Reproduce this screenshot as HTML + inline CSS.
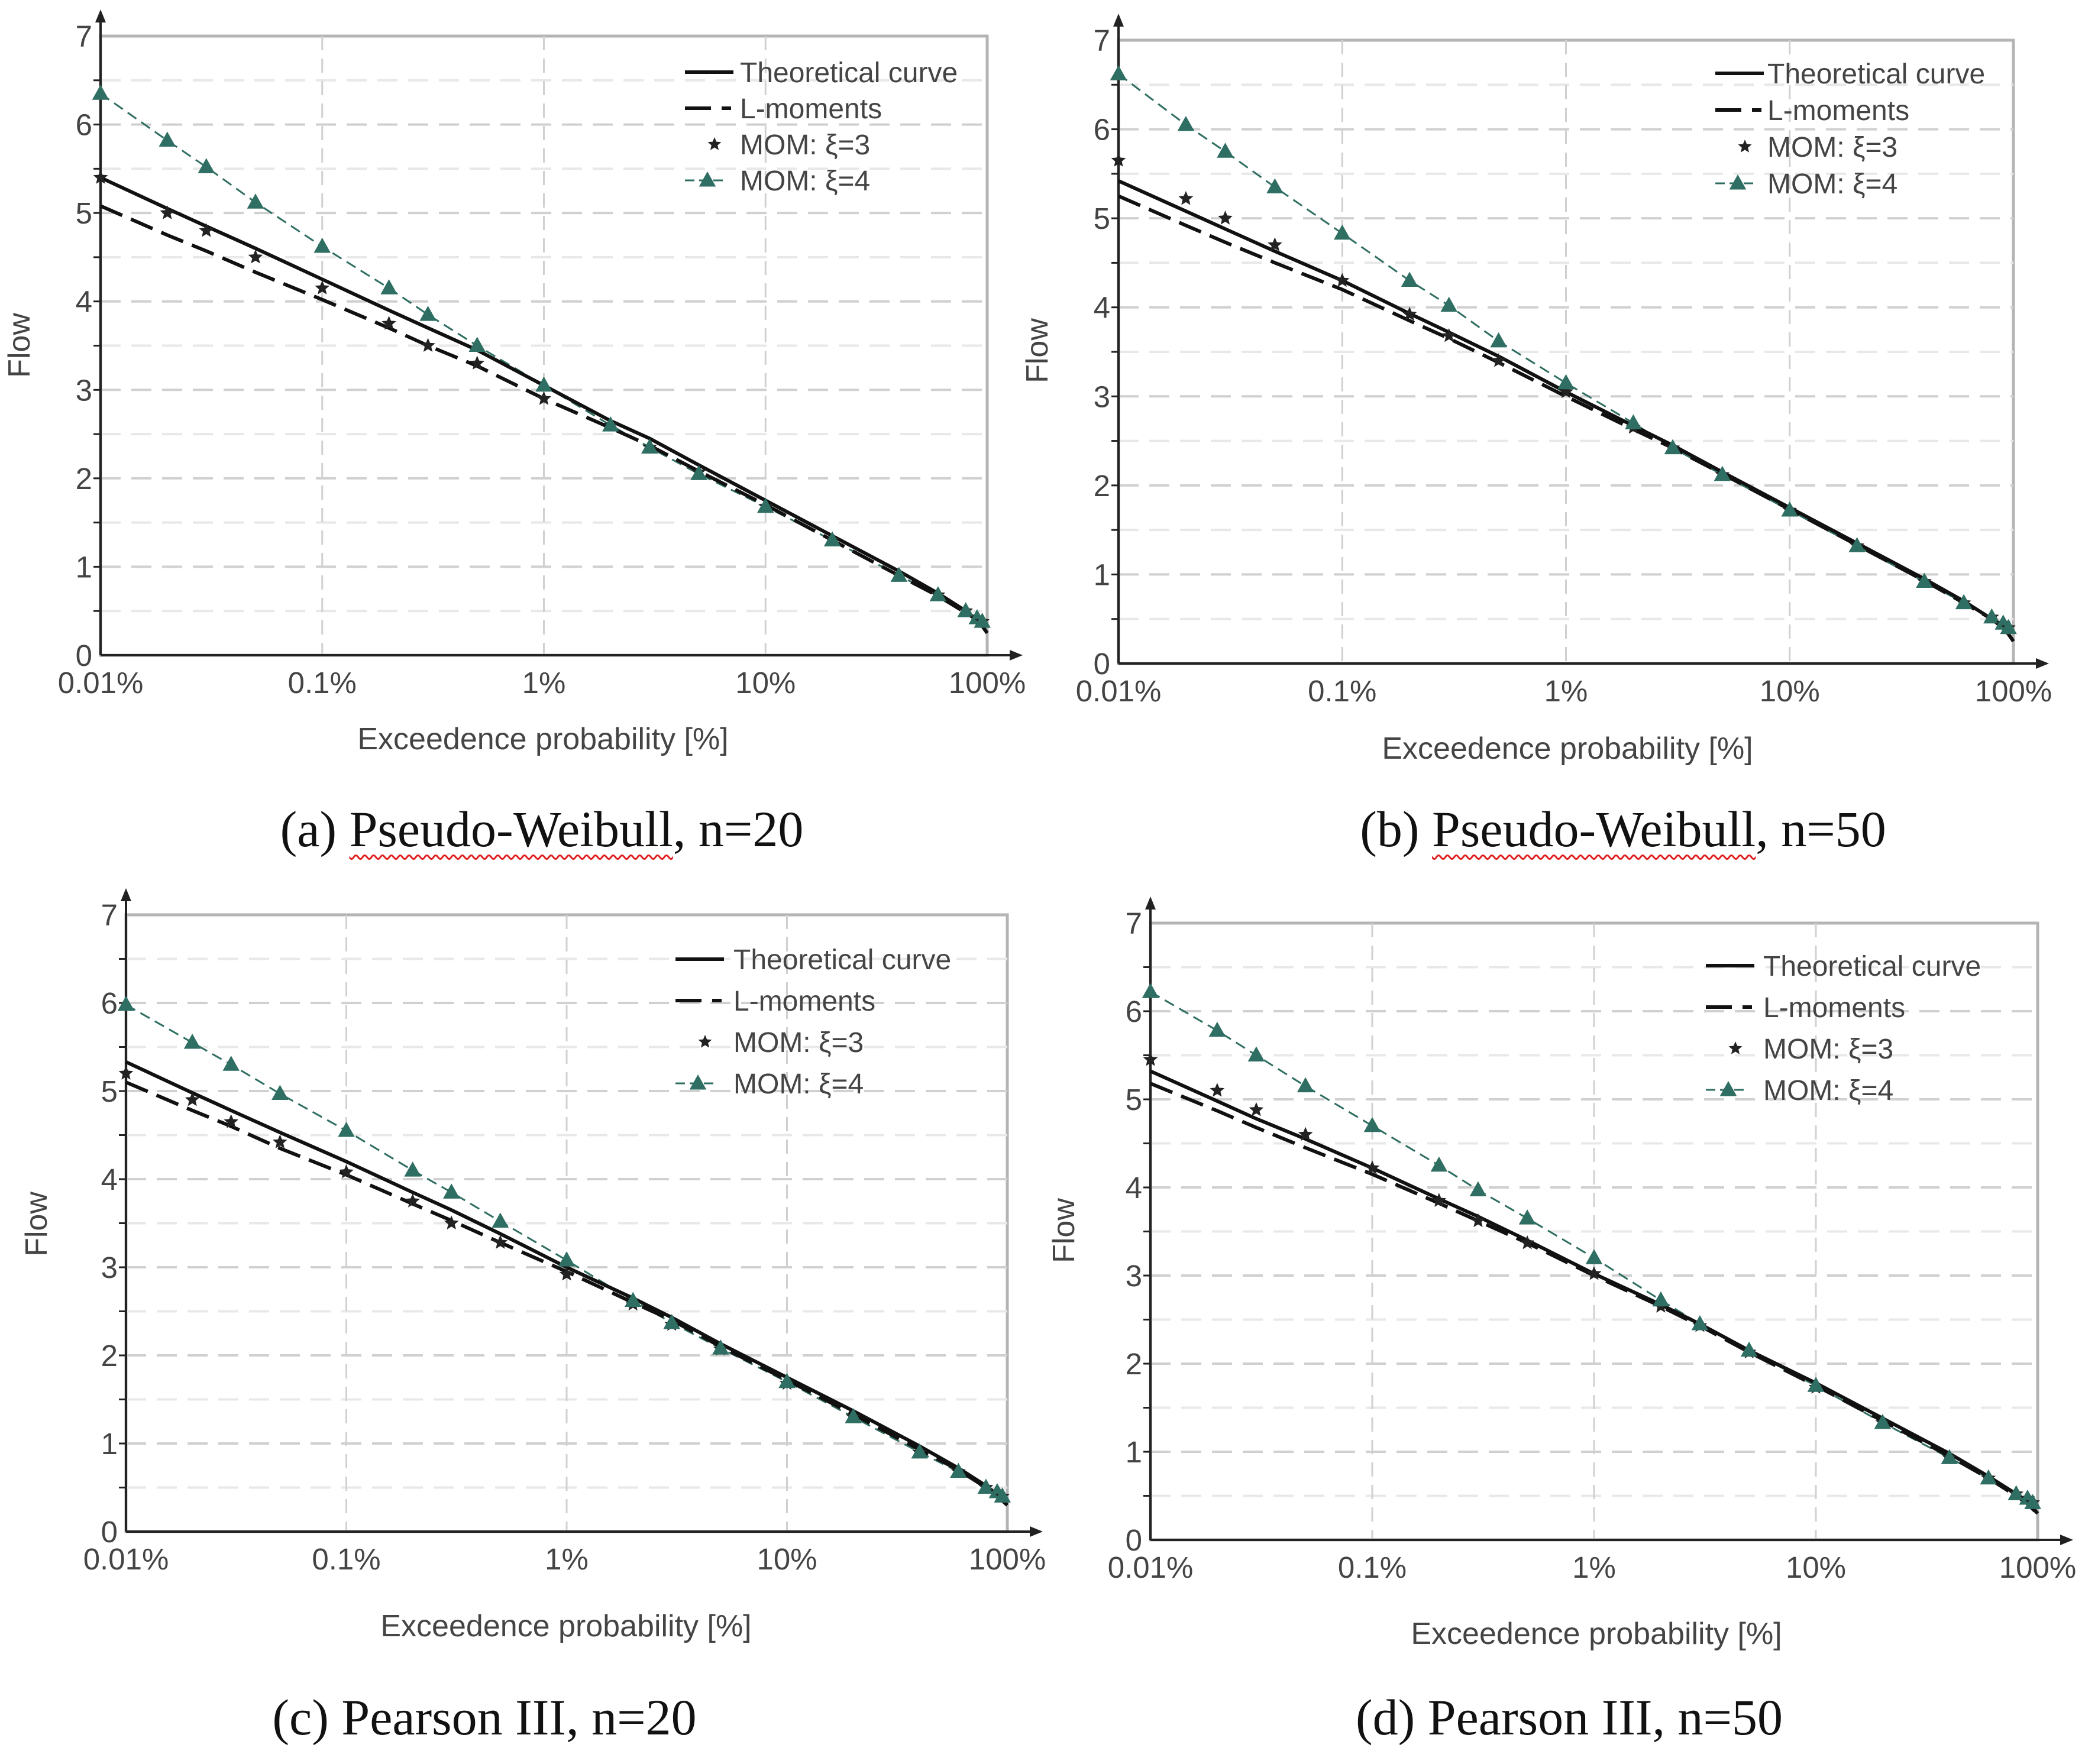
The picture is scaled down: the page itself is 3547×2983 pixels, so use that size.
<!DOCTYPE html>
<html><head><meta charset="utf-8">
<style>
html,body{margin:0;padding:0;background:#fff;}
#wrap{position:relative;width:3547px;height:2983px;overflow:hidden;}
.cap{position:absolute;font-family:"Liberation Serif",serif;font-size:86px;color:#111;white-space:nowrap;transform:translateX(-50%);}
.wavy{text-decoration:underline wavy #e02020;text-decoration-thickness:3px;text-underline-offset:14px;}
</style></head>
<body>
<div id="wrap">
<svg id="svg" width="3547" height="2983" viewBox="0 0 3547 2983" xmlns="http://www.w3.org/2000/svg"></svg>
<div class="cap" style="left:916px;top:1352px;">(a) <span class="wavy">Pseudo-Weibull</span>, n=20</div>
<div class="cap" style="left:2744px;top:1352px;">(b) <span class="wavy">Pseudo-Weibull</span>, n=50</div>
<div class="cap" style="left:819px;top:2854px;">(c) Pearson III, n=20</div>
<div class="cap" style="left:2653px;top:2854px;">(d) Pearson III, n=50</div>
</div>
<script>
// shared probabilities (%) for curves
const probs = [0.01,0.02,0.03,0.05,0.1,0.2,0.3,0.5,1,2,3,5,10,20,40,60,80,90,95,100];
// marker probabilities (%)
const markerProbs = [0.01,0.02,0.03,0.05,0.1,0.2,0.3,0.5,1,2,3,5,10,20,40,60,80,90,95];
const xTickVals = [0.01,0.1,1,10,100];
const xTickLabels = ["0.01%","0.1%","1%","10%","100%"];
const yTickVals = [0,1,2,3,4,5,6,7];
const legendLabels = ["Theoretical curve","L-moments","MOM: \u03BE=3","MOM: \u03BE=4"];

// Panel a
const theoA = [5.4,5.05,4.85,4.6,4.25,3.9,3.7,3.45,3.05,2.65,2.45,2.15,1.75,1.35,0.95,0.7,0.5,0.4,0.33,0.25];
const lmomA = [5.08,4.75,4.57,4.33,4.02,3.7,3.5,3.27,2.9,2.57,2.37,2.08,1.7,1.3,0.9,0.67,0.48,0.4,0.33,0.25];
const mom3A = [5.4,5.0,4.8,4.5,4.15,3.75,3.5,3.3,2.9,2.6,2.35,2.07,1.68,1.3,0.9,0.68,0.5,0.42,0.38];
const mom4A = [6.35,5.82,5.52,5.12,4.62,4.15,3.85,3.5,3.05,2.6,2.35,2.05,1.68,1.3,0.9,0.68,0.5,0.42,0.38];
// Panel b
const theoB = [5.42,5.08,4.88,4.63,4.3,3.93,3.72,3.45,3.05,2.67,2.45,2.15,1.75,1.35,0.95,0.7,0.5,0.4,0.33,0.25];
const lmomB = [5.25,4.92,4.73,4.5,4.2,3.85,3.65,3.38,3.0,2.63,2.42,2.13,1.73,1.33,0.93,0.68,0.5,0.4,0.33,0.25];
const mom3B = [5.65,5.22,5.0,4.7,4.3,3.92,3.68,3.4,3.05,2.65,2.42,2.12,1.72,1.32,0.92,0.68,0.52,0.45,0.4];
const mom4B = [6.62,6.05,5.75,5.35,4.83,4.3,4.02,3.62,3.15,2.7,2.42,2.12,1.72,1.32,0.92,0.68,0.52,0.45,0.4];
// Panel c
const theoC = [5.33,4.98,4.78,4.53,4.2,3.85,3.65,3.38,3.0,2.65,2.43,2.13,1.75,1.37,0.97,0.72,0.52,0.42,0.36,0.3];
const lmomC = [5.1,4.78,4.6,4.35,4.05,3.72,3.53,3.28,2.95,2.6,2.4,2.1,1.72,1.33,0.93,0.7,0.5,0.41,0.35,0.3];
const mom3C = [5.2,4.9,4.65,4.42,4.08,3.75,3.5,3.28,2.92,2.58,2.35,2.07,1.68,1.3,0.9,0.68,0.5,0.45,0.4];
const mom4C = [5.98,5.55,5.3,4.97,4.55,4.1,3.85,3.52,3.08,2.62,2.37,2.08,1.7,1.3,0.9,0.68,0.5,0.45,0.4];
// Panel d
const theoD = [5.32,4.98,4.78,4.55,4.22,3.87,3.67,3.4,3.02,2.67,2.45,2.15,1.78,1.38,0.98,0.72,0.52,0.42,0.36,0.3];
const lmomD = [5.18,4.87,4.68,4.45,4.15,3.82,3.62,3.37,3.0,2.65,2.43,2.13,1.75,1.35,0.95,0.7,0.5,0.41,0.35,0.3];
const mom3D = [5.45,5.1,4.88,4.6,4.22,3.85,3.62,3.37,3.02,2.65,2.43,2.13,1.73,1.33,0.93,0.7,0.52,0.47,0.42];
const mom4D = [6.22,5.78,5.5,5.15,4.7,4.25,3.97,3.65,3.2,2.72,2.45,2.15,1.75,1.33,0.93,0.7,0.52,0.47,0.42];

const panels = [
 {id:'a',L:170,R:1669,Y0:1108,Y7:61,theo:theoA,lmom:lmomA,m3:mom3A,m4:mom4A,leg:[1158,1251,122,61],fx:50,fy:584,tx:918,ty:1267},
 {id:'b',L:1891,R:3404,Y0:1122,Y7:68,theo:theoB,lmom:lmomB,m3:mom3B,m4:mom4B,leg:[2900,2988,124,62],fx:1771,fy:593,tx:2650,ty:1283},
 {id:'c',L:213,R:1703,Y0:2590,Y7:1547,theo:theoC,lmom:lmomC,m3:mom3C,m4:mom4C,leg:[1142,1240,1622,70],fx:79,fy:2070,tx:957,ty:2767},
 {id:'d',L:1945,R:3445,Y0:2604,Y7:1561,theo:theoD,lmom:lmomD,m3:mom3D,m4:mom4D,leg:[2884,2981,1633,70],fx:1816,fy:2081,tx:2699,ty:2780}
];
const svg = document.getElementById('svg');
const NS = 'http://www.w3.org/2000/svg';
function mk(tag, attrs, parent){const e=document.createElementNS(NS,tag);for(const k in attrs)e.setAttribute(k,attrs[k]);(parent||svg).appendChild(e);return e;}
const FONT='"Liberation Sans",sans-serif';
const GREEN='#2f6e62';
function starPts(cx,cy,r){let s=[];for(let i=0;i<10;i++){const a=-Math.PI/2+i*Math.PI/5;const rr=i%2?r*0.45:r;s.push((cx+rr*Math.cos(a)).toFixed(1)+','+(cy+rr*Math.sin(a)).toFixed(1));}return s.join(' ');}
function triPts(cx,cy,r){return [cx+','+(cy-r),(cx-r*0.95)+','+(cy+r*0.7),(cx+r*0.95)+','+(cy+r*0.7)].join(' ');}

panels.forEach(p=>{
  const g = mk('g',{});
  
  
  const xs = v => p.L + (Math.log10(v)+2)/4*(p.R-p.L);
  const ys = v => p.Y0 - v/7*(p.Y0-p.Y7);
  const fr = mk('rect',{x:p.L,y:p.Y7,width:p.R-p.L,height:p.Y0-p.Y7,fill:'none',stroke:'#b4b4b4','stroke-width':5},g);
  
  
  for(let v=0.5; v<7; v+=0.5){
    const gl = mk('line',{x1:p.L,x2:p.R,y1:ys(v),y2:ys(v),stroke: (v%1===0)?'#d0d0d0':'#e8e8e8','stroke-width':4,'stroke-dasharray':'34 18'},g);
    
    
    const mt = mk('line',{x1:p.L-12,x2:p.L,y1:ys(v),y2:ys(v),stroke:'#222','stroke-width':3},g);
    
    
  }
  xTickVals.forEach((v,i)=>{
    if(i>0 && i<4){
      const gl = mk('line',{x1:xs(v),x2:xs(v),y1:p.Y7,y2:p.Y0,stroke:'#d0d0d0','stroke-width':3,'stroke-dasharray':'24 14'},g);
      
      
    }
    const t = mk('text',{x:xs(v),y:p.Y0+64,'font-family':FONT,'font-size':51,fill:'#444','text-anchor':'middle'},g);
    t.textContent = xTickLabels[i];
    
    
  });
  yTickVals.forEach(v=>{
    const t = mk('text',{x:p.L-14,y:ys(v)+18,'font-family':FONT,'font-size':51,fill:'#444','text-anchor':'end'},g);
    t.textContent = String(v);
    
    
  });
  const ax = mk('line',{x1:p.L,x2:p.R+45,y1:p.Y0,y2:p.Y0,stroke:'#222','stroke-width':4},g);
  
  
  const axa = mk('polygon',{points:`${p.R+60},${p.Y0} ${p.R+38},${p.Y0-9} ${p.R+38},${p.Y0+9}`,fill:'#222'},g);
  
  
  const ay = mk('line',{x1:p.L,x2:p.L,y1:p.Y0,y2:p.Y7-30,stroke:'#222','stroke-width':4},g);
  
  
  const aya = mk('polygon',{points:`${p.L},${p.Y7-45} ${p.L-9},${p.Y7-23} ${p.L+9},${p.Y7-23}`,fill:'#222'},g);
  
  
  const xt = mk('text',{x:p.tx,y:p.ty,'font-family':FONT,'font-size':52,fill:'#444','text-anchor':'middle'},g);
  xt.textContent='Exceedence probability [%]';
  
  
  const yt = mk('text',{x:p.fx,y:p.fy,'font-family':FONT,'font-size':52,fill:'#444','text-anchor':'middle',transform:`rotate(-90 ${p.fx} ${p.fy})`},g);
  yt.textContent='Flow';
  
  
  const path = arr => probs.map((pr,i)=>(i?'L':'M')+xs(pr).toFixed(1)+','+ys(arr[i]).toFixed(1)).join(' ');
  const mpath = arr => markerProbs.map((pr,i)=>(i?'L':'M')+xs(pr).toFixed(1)+','+ys(arr[i]).toFixed(1)).join(' ');
  const m4l = mk('path',{d:mpath(p.m4)+' L'+xs(100)+','+ys(p.theo[p.theo.length-1]),fill:'none',stroke:GREEN,'stroke-width':3,'stroke-dasharray':'18 10'},g);
  
  
  const lm = mk('path',{d:path(p.lmom),fill:'none',stroke:'#111','stroke-width':6,'stroke-dasharray':'40 16'},g);
  
  
  const th = mk('path',{d:path(p.theo),fill:'none',stroke:'#111','stroke-width':6},g);
  
  
  markerProbs.forEach((pr,i)=>{
    const s = mk('polygon',{points:starPts(xs(pr),ys(p.m3[i]),13),fill:'#222'},g);
    
    
    const t = mk('polygon',{points:triPts(xs(pr),ys(p.m4[i]),15),fill:GREEN},g);
    
    
  });
  const [lx,tx0,ly,dy] = p.leg;
  const lg = mk('g',{},g);
  
  
  legendLabels.forEach((lab,i)=>{
    const yy = ly + i*dy;
    if(i===0){ const l=mk('line',{x1:lx,x2:lx+82,y1:yy,y2:yy,stroke:'#111','stroke-width':6},lg);   }
    if(i===1){ const l=mk('path',{d:`M${lx},${yy} L${lx+44},${yy} M${lx+62},${yy} L${lx+78},${yy}`,stroke:'#111','stroke-width':6,fill:'none'},lg);   }
    if(i===2){ const l=mk('polygon',{points:starPts(lx+50,yy,12),fill:'#222'},lg);   }
    if(i===3){ const l=mk('line',{x1:lx,x2:lx+72,y1:yy,y2:yy,stroke:GREEN,'stroke-width':3,'stroke-dasharray':'16 8'},lg);  
      const t=mk('polygon',{points:triPts(lx+38,yy,15),fill:GREEN},lg);   }
    const t = mk('text',{x:tx0,y:yy+17,'font-family':FONT,'font-size':48,fill:'#444'},lg);
    t.textContent = lab;
    
    
  });
});
</script>
</body></html>
